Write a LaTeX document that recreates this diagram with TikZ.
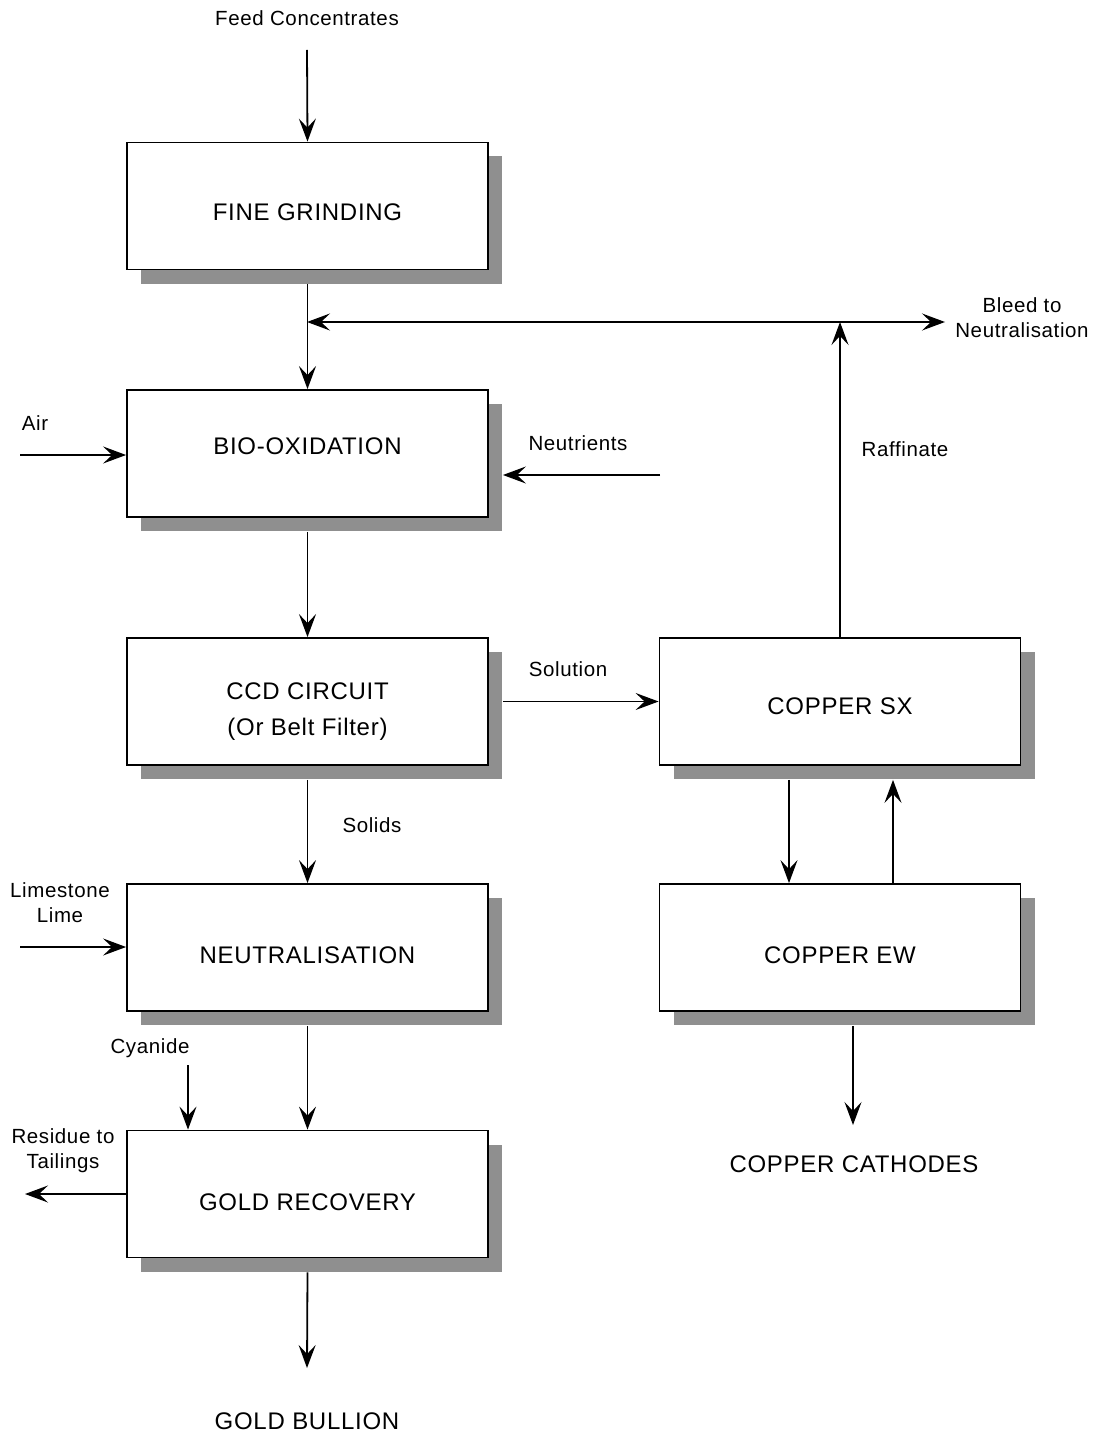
\documentclass[tikz,border=0pt]{standalone}
\usepackage{fontspec}
\setmainfont{Liberation Sans}[LetterSpace=3]
\usetikzlibrary{arrows.meta,shadows}
\definecolor{shadowgray}{HTML}{8F8F8F}
\newcommand\dnshift[2]{\raisebox{#1}[0pt][0pt]{#2}}
\tikzset{
  procbox/.style={draw=black, line width=1.8pt, fill=white, minimum width=361pt, minimum height=127pt,
    inner sep=0pt, align=center, font=\fontsize{24}{35}\selectfont,
    drop shadow={shadow xshift=14pt, shadow yshift=-14pt, opacity=1, fill=shadowgray}},
  lbl/.style={align=center, inner sep=0pt, font=\fontsize{20.5}{25}\selectfont},
  biglbl/.style={align=center, inner sep=0pt, font=\fontsize{24}{28}\selectfont},
  tip/.tip={Stealth[length=23pt, width=17pt, inset=9pt]},
  flow/.style={line width=1.8pt, -tip},
  flow2/.style={line width=1.8pt, tip-tip}
}
\begin{document}
\begin{tikzpicture}[x=1pt, y=-1pt]
\useasboundingbox (0,0) rectangle (1096,1439);
% boxes
\node[procbox] (fg) at (307.5,206) {\dnshift{-14.5pt}{FINE GRINDING}};
\node[procbox] (bio) at (307.5,453.5) {\dnshift{-1pt}{BIO-OXIDATION}};
\node[procbox] (ccd) at (307.5,701.5) {\dnshift{-15.5pt}{\begin{tabular}{@{}c@{}}CCD CIRCUIT\\[1pt](Or Belt Filter)\end{tabular}}};
\node[procbox] (neut) at (307.5,947.5) {\dnshift{-16pt}{NEUTRALISATION}};
\node[procbox] (gold) at (307.5,1194) {\dnshift{-16.5pt}{GOLD RECOVERY}};
\node[procbox] (sx) at (840,701.5) {\dnshift{-13pt}{COPPER SX}};
\node[procbox] (ew) at (840,947.5) {\dnshift{-16pt}{COPPER EW}};
% labels
\node[lbl] (feedl) at (307,18) {Feed Concentrates};
\node[lbl] (bleedl) at (1022,318) {Bleed to\\Neutralisation};
\node[lbl] (airl) at (35,423) {Air};
\node[lbl] (neutrl) at (578,443) {Neutrients};
\node[lbl] (raffl) at (905,449) {Raffinate};
\node[lbl] (soll) at (568,669) {Solution};
\node[lbl] (solidl) at (372,825) {Solids};
\node[lbl] (limel) at (60,903) {Limestone\\Lime};
\node[lbl] (cyanl) at (150,1048) {Cyanide};
\node[lbl] (resl) at (63,1151) {Residue to\\Tailings};
\node[biglbl] (bullion) at (307,1421) {GOLD BULLION};
\node[biglbl] (cath) at (854,1164) {COPPER CATHODES};
% coordinates
\coordinate (feedtop) at (307,50);
\coordinate (jl) at (307,322);
\coordinate (jr) at (840,322);
\coordinate (bleedend) at (945,322);
\coordinate (airs) at (20,455);
\coordinate (neuts) at (660,475);
\coordinate (limes) at (20,947);
\coordinate (cyans) at (188,1065);
\coordinate (rese) at (25,1194);
\coordinate (bulle) at (307,1368);
\coordinate (cathe) at (853,1125);
% connectors
\draw[flow] (feedtop) -- (fg.north);
\draw[flow] ([yshift=-14pt]fg.south) -- (bio.north);
\draw[flow2] (jl) -- (bleedend);
\draw[flow] (sx.north) -- (jr);
\draw[flow] (airs) -- (airs -| bio.west);
\draw[flow] (neuts) -- ([xshift=14pt]neuts -| bio.east);
\draw[flow] ([yshift=-14pt]bio.south) -- (ccd.north);
\draw[flow] ([xshift=14pt]ccd.east) -- (sx.west);
\draw[flow] ([yshift=-14pt]ccd.south) -- (neut.north);
\draw[flow] (limes) -- (limes -| neut.west);
\draw[flow] ([yshift=-14pt]neut.south) -- (gold.north);
\draw[flow] (cyans) -- (cyans |- gold.north);
\draw[flow] (gold.west) -- (rese);
\draw[flow] ([yshift=-14pt]gold.south) -- (bulle);
\draw[flow] ([xshift=-51pt,yshift=-14pt]sx.south) -- ([xshift=-51pt]ew.north);
\draw[flow] ([xshift=53pt]ew.north) -- ([xshift=53pt,yshift=-14pt]sx.south);
\draw[flow] ([xshift=13pt,yshift=-14pt]ew.south) -- (cathe);
\end{tikzpicture}
\end{document}
